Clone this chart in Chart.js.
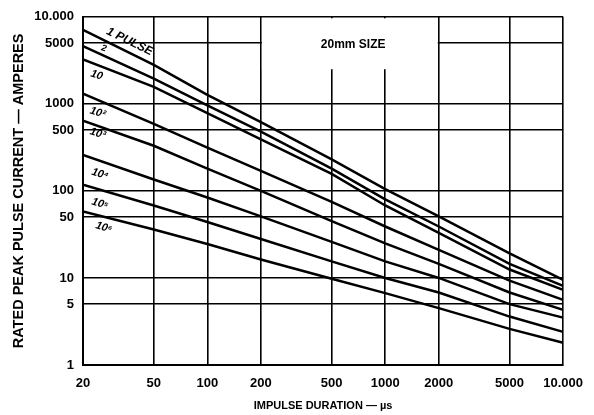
<!DOCTYPE html>
<html>
<head>
<meta charset="utf-8">
<script src="https://cdn.jsdelivr.net/npm/chart.js@4/dist/chart.umd.min.js"></script>
<style>
  body { margin: 0; background: #fff; }
  canvas { display: block; }
</style>
</head>
<body>
<canvas id="chart" width="594" height="415"></canvas>
<script>
// impulse duration (us) where each curve was read
const durations = [20, 50, 100, 200, 500, 1000, 2000, 5000, 10000];

// rated peak pulse current (A) per number of pulses
const pulses1 = [7100, 2800, 1270, 615, 230, 105, 51, 19.2, 9.5];
const pulses2 = [4600, 1950, 960, 480, 180, 80, 39, 14.5, 8.1];
const pulses10 = [3240, 1570, 780, 390, 157, 68, 33, 12.5, 7.3];
const pulses1e2 = [1310, 590, 315, 170, 75, 39, 21, 9.3, 5.6];
const pulses1e3 = [640, 330, 180, 100, 45, 25, 14.5, 6.8, 4.3];
const pulses1e4 = [259, 135, 84, 51, 26, 15.5, 10, 5, 3.5];
const pulses1e5 = [118, 68, 44, 28, 15.5, 10, 6.8, 3.6, 2.4];
const pulses1e6 = [58, 36, 24.5, 16.3, 9.8, 6.7, 4.5, 2.6, 1.8];

const allSeries = [pulses1, pulses2, pulses10, pulses1e2, pulses1e3, pulses1e4, pulses1e5, pulses1e6];

const xTicks = [20, 50, 100, 200, 500, 1000, 2000, 5000, 10000];
const yTicks = [1, 5, 10, 50, 100, 500, 1000, 5000, 10000];
const xTickLabels = ['20', '50', '100', '200', '500', '1000', '2000', '5000', '10.000'];
const yTickLabels = ['1', '5', '10', '50', '100', '500', '1000', '5000', '10.000'];

// curve labels: text and where they sit (in data units)
const curveLabels = ['1 PULSE', '2', '10', '10²', '10³', '10⁴', '10⁵', '10⁶'];
const labelAt = [[36.6, 5200], [26.2, 4330], [23.9, 2140], [24.2, 790], [24.2, 456], [24.9, 156], [24.9, 71], [26.2, 38]];

const FONT = '"Liberation Sans", Arial, sans-serif';

const boxPlugin = {
  id: 'sizeBox',
  beforeDatasetsDraw(chart) {
    const { ctx, scales: { x, y }, chartArea } = chart;
    const left = x.getPixelForValue(200) + 1;
    const right = x.getPixelForValue(2000) - 1;
    const bottom = y.getPixelForValue(2500);
    ctx.save();
    ctx.fillStyle = '#fff';
    ctx.fillRect(left, chartArea.top + 1.5, right - left, bottom - chartArea.top - 1.5);
    ctx.fillStyle = '#000';
    ctx.font = 'bold 12px ' + FONT;
    ctx.textAlign = 'center';
    ctx.textBaseline = 'middle';
    ctx.fillText('20mm SIZE', x.getPixelForValue(660), y.getPixelForValue(4810));
    ctx.restore();
  },
  afterDatasetsDraw(chart) {
    const { ctx, scales: { x, y } } = chart;
    ctx.save();
    ctx.fillStyle = '#000';
    ctx.textAlign = 'center';
    ctx.textBaseline = 'middle';
    curveLabels.forEach((txt, i) => {
      const px = x.getPixelForValue(labelAt[i][0]);
      const py = y.getPixelForValue(labelAt[i][1]);
      ctx.save();
      ctx.translate(px, py);
      ctx.rotate(i === 0 ? 0.45 : 0.3);
      ctx.font = 'italic bold ' + (i === 0 ? 12 : i === 1 ? 9 : 11) + 'px ' + FONT;
      ctx.fillText(txt, 0, 0);
      ctx.restore();
    });
    ctx.restore();
  }
};

const datasets = allSeries.map((values, i) => ({
  label: curveLabels[i],
  data: durations.map((t, j) => ({ x: t, y: values[j] })),
  borderColor: '#000',
  borderWidth: 2.5,
  pointRadius: 0,
  tension: 0,
  fill: false
}));

new Chart(document.getElementById('chart'), {
  type: 'line',
  data: { datasets },
  options: {
    responsive: false,
    animation: false,
    layout: { padding: { top: 13, right: 27, left: 0, bottom: 0 } },
    plugins: { legend: { display: false }, tooltip: { enabled: false } },
    scales: {
      x: {
        type: 'logarithmic',
        min: 20,
        max: 10000,
        afterBuildTicks(scale) { scale.ticks = xTicks.map(v => ({ value: v })); },
        afterFit(scale) { scale.height = 50; },
        ticks: {
          autoSkip: false,
          maxRotation: 0,
          padding: 11,
          color: '#000',
          font: { family: FONT, size: 13, weight: 'bold' },
          callback: (v) => xTickLabels[xTicks.indexOf(v)]
        },
        grid: { color: '#000', lineWidth: 1.6, drawTicks: false },
        border: { color: '#000', width: 2 },
        title: {
          display: true,
          text: 'IMPULSE DURATION — µs',
          color: '#000',
          font: { family: FONT, size: 11, weight: 'bold' },
          padding: { top: 0, bottom: 2 }
        }
      },
      y: {
        type: 'logarithmic',
        min: 1,
        max: 10000,
        afterBuildTicks(scale) { scale.ticks = yTicks.map(v => ({ value: v })); },
        afterFit(scale) { scale.width = 83; },
        ticks: {
          autoSkip: false,
          padding: 9,
          color: '#000',
          font: { family: FONT, size: 13, weight: 'bold' },
          callback: (v) => yTickLabels[yTicks.indexOf(v)]
        },
        grid: { color: '#000', lineWidth: 1.6, drawTicks: false },
        border: { color: '#000', width: 2 },
        title: {
          display: true,
          text: 'RATED PEAK PULSE CURRENT — AMPERES',
          color: '#000',
          font: { family: FONT, size: 14.5, weight: 'bold' },
          padding: { top: 10, bottom: 0 }
        }
      }
    }
  },
  plugins: [boxPlugin]
});
</script>
</body>
</html>
